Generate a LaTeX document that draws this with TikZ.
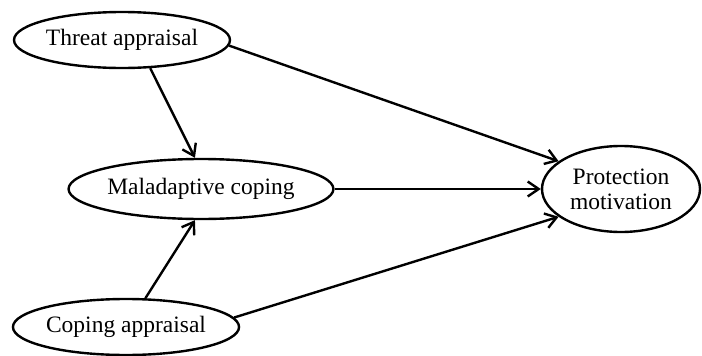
\documentclass[tikz,border=0pt]{standalone}
\usepackage{fontspec}
\setmainfont{Liberation Serif}
\usetikzlibrary{shapes.geometric,arrows.meta}
\begin{document}
\begin{tikzpicture}[x=1pt,y=-1pt,
  oval/.style={draw, ellipse, line width=2.4pt, inner sep=0pt, align=center,
    font=\fontsize{23.5}{25}\selectfont},
  link/.style={line width=2.4pt, -{Straight Barb[length=11pt,width=15pt,line width=2.4pt]}}]
\useasboundingbox (0,0) rectangle (702,356);
\node[oval, minimum width=216pt, minimum height=56pt] (threat) at (122,40) {Threat appraisal};
\node[oval, minimum width=258pt, minimum height=60pt] (mal) at (201,189) {Maladaptive coping};
\node[oval, minimum width=226pt, minimum height=56pt] (cop) at (126,327) {Coping appraisal};
\node[oval, minimum width=158pt, minimum height=86pt] (prot) at (621,189) {Protection\\motivation};
\draw[link] (threat.-45) -- (mal.101);
\draw[link] (cop.56) -- (mal.-101);
\draw[link] (threat.-3) -- (prot.156);
\draw[link] (mal.east) -- (prot.west);
\draw[link] (cop.5) -- (prot.-156);
\end{tikzpicture}
\end{document}
